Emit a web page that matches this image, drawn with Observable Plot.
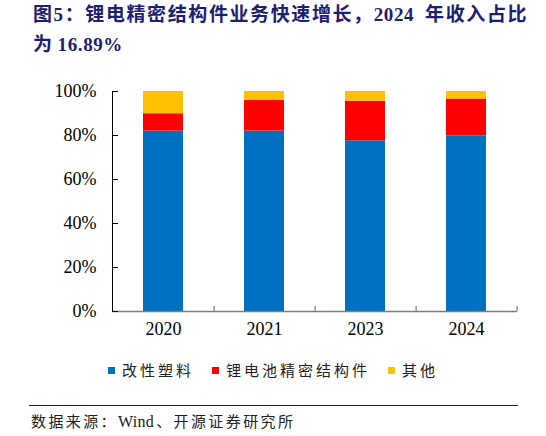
<!DOCTYPE html>
<html>
<head>
<meta charset="utf-8">
<script src="https://cdn.jsdelivr.net/npm/d3@7"></script>
<script src="https://cdn.jsdelivr.net/npm/@observablehq/plot@0.6"></script>
<style>
  html, body { margin: 0; padding: 0; background: #fff; }
  #page { position: relative; width: 546px; height: 436px; overflow: hidden; }
  #title { position: absolute; left: 33px; top: 0px; width: 513px; font-family: "Liberation Serif", "Noto Sans CJK SC", serif; font-weight: bold; font-size: 19px; line-height: 30px; color: #1c2070; letter-spacing: 1.6px; white-space: nowrap; }
  .num { letter-spacing: 0.6px; }
  .gap { display: inline-block; width: 11px; }
  .gap2 { display: inline-block; width: 4px; }
  .rule { position: absolute; left: 29px; width: 489px; background: #222; }
  #chart { position: absolute; left: 0; top: 60px; }
  #legend { position: absolute; left: 0; top: 360px; width: 546px; display: flex; justify-content: center; font-family: "Noto Sans CJK SC", sans-serif; font-size: 15px; letter-spacing: 3px; color: #222; line-height: 20px; }
  .item { display: flex; align-items: center; margin: 0 9px; }
  .sw { width: 7px; height: 7px; margin-right: 7px; }
  #source { position: absolute; left: 31px; top: 410px; font-family: "Liberation Serif", "Noto Sans CJK SC", serif; font-size: 15px; letter-spacing: 2.4px; color: #222; white-space: nowrap; }
  #source .lat { letter-spacing: 0.3px; margin-right: 2px; font-size: 16px; }
</style>
</head>
<body>
<div id="page">
  <div id="title">图5：锂电精密结构件业务快速增长，<span class="num">2024</span><span class="gap"></span>年收入占比<br>为<span class="gap2"></span><span class="num">16.89%</span></div>
  <div class="rule" style="top:61px;height:1.5px;"></div>
  <div id="chart"></div>
  <div id="legend"></div>
  <div class="rule" style="top:405px;height:1px;"></div>
  <div id="source">数据来源：<span class="lat">Wind</span>、开源证券研究所</div>
</div>
<script>
const years = ["2020", "2021", "2023", "2024"];
const seriesNames = ["改性塑料", "锂电池精密结构件", "其他"];
const plastics = [82.0, 82.0, 77.6, 79.7];
const structural = [7.9, 13.9, 18.0, 16.89];
const others = [10.1, 4.1, 4.4, 3.41];
const colors = ["#0070C0", "#FF0000", "#FFC000"];
const yTicks = [0, 20, 40, 60, 80, 100];

const seriesValues = [plastics, structural, others];
const data = [];
years.forEach((yr, i) => {
  seriesNames.forEach((s, j) => data.push({year: yr, series: s, value: seriesValues[j][i]}));
});

const W = 546, H = 290, ML = 112, MR = 29, MT = 31, MB = 39;
const plotW = W - ML - MR;
const step = plotW / years.length;

const chart = Plot.plot({
  width: W, height: H,
  marginLeft: ML, marginRight: MR, marginTop: MT, marginBottom: MB,
  style: {fontFamily: "Liberation Serif", fontSize: "18px", color: "#000", background: "#fff"},
  x: {domain: years, paddingInner: 0.605, paddingOuter: 0.3025, axis: null, label: null},
  y: {domain: [0, 100], axis: null, label: null},
  color: {domain: seriesNames, range: colors},
  marks: [
    Plot.barY(data, {x: "year", y: "value", fill: "series"}),
    Plot.ruleY([0], {stroke: "#7f7f7f", strokeWidth: 1.5}),
    Plot.ruleX(years, {x: d => d, dx: step / 2, y1: 0, y2: 2.3, stroke: "#7f7f7f", strokeWidth: 1.2}),
    Plot.frame({anchor: "left", stroke: "#000"}),
    Plot.axisX({label: null, tickSize: 0, tickPadding: 11, fontSize: 18, fontFamily: "Liberation Serif", fill: "#000"}),
    Plot.axisY({label: null, ticks: yTicks, tickFormat: d => d + "%", tickSize: 0, tickPadding: 16, fontSize: 18, fontFamily: "Liberation Serif", fill: "#000"}),
    Plot.axisY({label: null, anchor: "right", ticks: yTicks, text: null, tickSize: 5, dx: -plotW, stroke: "#000"})
  ]
});
document.getElementById("chart").appendChild(chart);

const legend = document.getElementById("legend");
seriesNames.forEach((s, i) => {
  const it = document.createElement("div");
  it.className = "item";
  it.innerHTML = `<span class="sw" style="background:${colors[i]}"></span><span>${s}</span>`;
  legend.appendChild(it);
});
</script>
</body>
</html>
